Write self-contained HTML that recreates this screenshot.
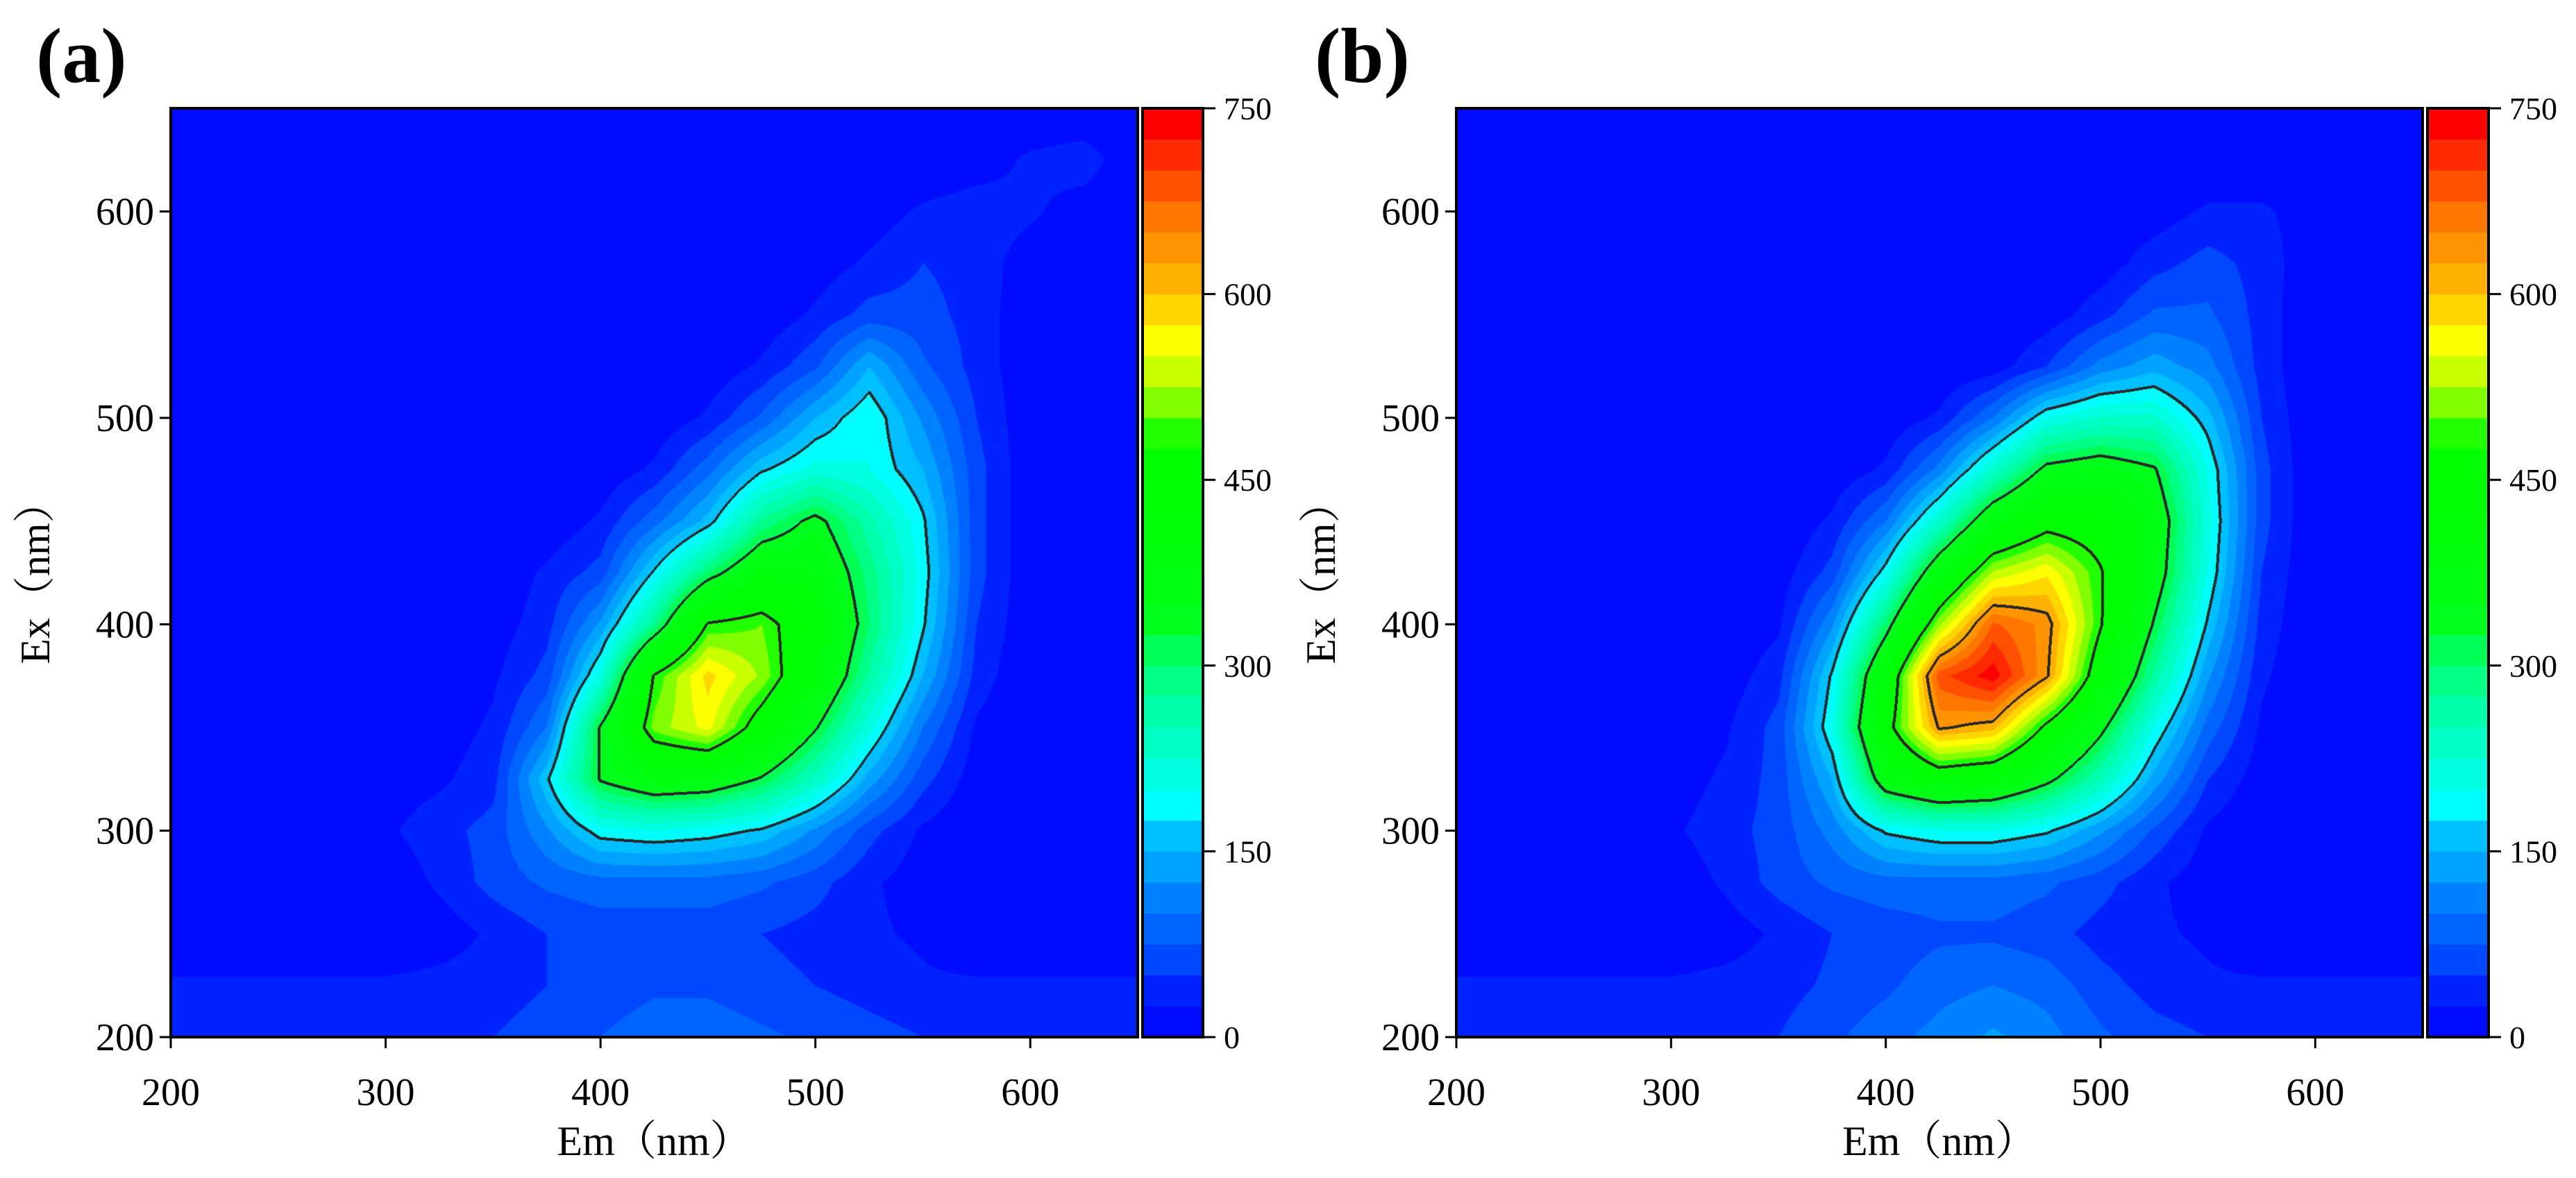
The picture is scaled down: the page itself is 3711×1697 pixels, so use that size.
<!DOCTYPE html>
<html><head><meta charset="utf-8">
<style>
html,body{margin:0;padding:0;background:#fff;}
#root{position:relative;width:3711px;height:1697px;overflow:hidden;background:#fff;font-family:"Liberation Serif","Noto Serif CJK SC",serif;}
canvas{position:absolute;}
svg{position:absolute;left:0;top:0;}
</style></head>
<body>
<div id="root">
<canvas id="cva" width="1393" height="1338" style="left:246px;top:156px"></canvas>
<canvas id="cvb" width="1392" height="1338" style="left:2098px;top:156px"></canvas>
<svg id="ov" width="3711" height="1697"></svg>
</div>
<script>
// ---- data ----
const emValues = [200,225,250,275,300,325,350,375,400,425,450,475,500,525,550,575,600,625,650];
const exValues = [200,225,250,275,300,325,350,375,400,425,450,475,500,525,550,575,600,625,650];
const xTickLabels = [200,300,400,500,600];
const yTickLabels = [200,300,400,500,600];
const cbTickLabels = [0,150,300,450,600,750];
const contourLevels = [175,325,475,625];
// rows: Ex 200 (first) -> 650 (last); cols: Em 200 -> 650
const intensityA = [
[40,40,40,40,40,45,50,60,75,90,90,80,70,60,50,40,40,40,40],
[30,30,30,30,30,35,40,50,60,70,70,60,50,40,30,30,30,30,30],
[0,0,0,0,0,10,30,50,60,60,60,50,40,30,20,0,0,0,0],
[0,0,0,0,5,30,60,80,90,90,90,80,60,30,10,0,0,0,0],
[0,0,0,0,20,40,60,120,190,200,190,170,120,60,20,0,0,0,0],
[0,0,0,0,10,20,40,170,330,380,370,320,240,140,60,10,0,0,0],
[0,0,0,0,0,10,30,100,330,510,560,440,330,210,100,20,0,0,0],
[0,0,0,0,0,5,20,60,210,480,585,520,400,270,150,40,0,0,0],
[0,0,0,0,0,0,10,40,130,280,480,500,420,300,180,50,5,0,0],
[0,0,0,0,0,0,5,30,60,180,300,390,380,290,190,60,5,0,0],
[0,0,0,0,0,0,0,5,30,90,160,280,340,260,180,60,5,0,0],
[0,0,0,0,0,0,0,0,5,30,90,170,210,200,150,60,5,0,0],
[0,0,0,0,0,0,0,0,0,5,30,80,150,200,120,50,5,0,0],
[0,0,0,0,0,0,0,0,0,0,5,30,70,150,80,40,5,0,0],
[0,0,0,0,0,0,0,0,0,0,0,5,30,60,60,40,5,0,0],
[0,0,0,0,0,0,0,0,0,0,0,0,10,30,50,40,10,0,0],
[0,0,0,0,0,0,0,0,0,0,0,0,0,10,30,40,30,10,0],
[0,0,0,0,0,0,0,0,0,0,0,0,0,0,0,10,30,40,0],
[0,0,0,0,0,0,0,0,0,0,0,0,0,0,0,0,0,0,0]
];
const intensityB = [
[40,40,40,40,40,45,50,70,90,110,130,110,80,60,50,40,40,40,40],
[30,30,30,30,30,35,40,55,70,90,100,90,60,40,30,30,30,30,30],
[0,0,0,0,0,10,30,50,60,70,70,60,40,30,20,0,0,0,0],
[0,0,0,0,5,30,60,80,90,90,90,80,60,30,10,0,0,0,0],
[0,0,0,0,20,40,60,110,180,200,200,180,130,70,20,0,0,0,0],
[0,0,0,0,10,30,60,150,370,430,410,340,250,140,50,10,0,0,0],
[0,0,0,0,5,20,60,200,450,630,610,460,340,200,90,20,0,0,0],
[0,0,0,0,0,10,40,180,410,690,740,630,430,270,130,30,0,0,0],
[0,0,0,0,0,5,20,120,300,520,680,640,480,320,170,40,0,0,0],
[0,0,0,0,0,0,10,60,190,380,530,570,480,360,200,50,0,0,0],
[0,0,0,0,0,0,0,30,100,230,380,450,440,370,210,60,0,0,0],
[0,0,0,0,0,0,0,5,30,110,230,340,360,330,200,60,0,0,0],
[0,0,0,0,0,0,0,0,5,30,100,200,230,230,160,50,0,0,0],
[0,0,0,0,0,0,0,0,0,0,10,50,110,140,110,40,0,0,0],
[0,0,0,0,0,0,0,0,0,0,0,10,40,80,80,40,0,0,0],
[0,0,0,0,0,0,0,0,0,0,0,0,10,40,60,40,5,0,0],
[0,0,0,0,0,0,0,0,0,0,0,0,0,10,30,30,10,0,0],
[0,0,0,0,0,0,0,0,0,0,0,0,0,0,0,0,10,10,0],
[0,0,0,0,0,0,0,0,0,0,0,0,0,0,0,0,0,0,0]
];
// ---- colormap ----
const cmapStops = [[0,0,0,255],[35,0,30,255],[61,0,70,255],[87,0,100,255],[113,0,130,255],[136,0,160,255],[162,0,190,255],[188,0,255,255],[216,0,255,220],[263,0,255,170],[289,0,255,130],[315,0,255,80],[340,0,255,20],[470,0,255,0],[491,40,255,0],[512,128,255,0],[537,200,255,0],[563,255,255,0],[587,255,215,0],[610,255,180,0],[636,255,150,0],[662,255,120,0],[688,255,80,0],[714,255,40,0],[737,255,0,0],[750,255,0,0]];
function cmap(v){
  for(let i=1;i<cmapStops.length;i++){
    if(v<=cmapStops[i][0]){const a=cmapStops[i-1],b=cmapStops[i];const t=(v-a[0])/(b[0]-a[0]);
      return [a[1]+(b[1]-a[1])*t,a[2]+(b[2]-a[2])*t,a[3]+(b[3]-a[3])*t];}
  }
  return [255,0,0];
}
const STEP=25;
function bandColor(k){return cmap(Math.min(29,k)*STEP+STEP/2);}
const X0=200,X1=650,Y0=200,Y1=650;
function interp(grid,em,ex){
  const fx=(em-emValues[0])/(emValues[1]-emValues[0]);
  const fy=(ex-exValues[0])/(exValues[1]-exValues[0]);
  let i=Math.min(emValues.length-2,Math.max(0,Math.floor(fx)));
  let j=Math.min(exValues.length-2,Math.max(0,Math.floor(fy)));
  const tx=fx-i,ty=fy-j;
  const a=grid[j][i],b=grid[j][i+1],c=grid[j+1][i],d=grid[j+1][i+1];
  return a*(1-tx)*(1-ty)+b*tx*(1-ty)+c*(1-tx)*ty+d*tx*ty;
}
function drawHeat(id,grid){
  const cv=document.getElementById(id);const W=cv.width,H=cv.height;
  const ctx=cv.getContext('2d');const img=ctx.createImageData(W,H);
  const vals=new Float32Array(W*H);
  for(let y=0;y<H;y++){const ex=Y1-(y+0.5)/H*(Y1-Y0);
    for(let x=0;x<W;x++){const em=X0+(x+0.5)/W*(X1-X0);vals[y*W+x]=interp(grid,em,ex);}}
  for(let p=0;p<W*H;p++){const c=bandColor(Math.floor(vals[p]/STEP));
    img.data[p*4]=c[0];img.data[p*4+1]=c[1];img.data[p*4+2]=c[2];img.data[p*4+3]=255;}
  for(const L of contourLevels){
    for(let y=1;y<H-2;y++)for(let x=1;x<W-2;x++){
      const p=y*W+x;const s=vals[p]>=L;
      if(s!==(vals[p+1]>=L)||s!==(vals[p+W]>=L)){
        for(const q of [p-1,p,p+1,p+2,p-W,p+W,p+2*W]){img.data[q*4]=40;img.data[q*4+1]=40;img.data[q*4+2]=40;}
      }
    }
  }
  ctx.putImageData(img,0,0);
}
drawHeat('cva',intensityA);
drawHeat('cvb',intensityB);

// ---- axes overlay ----
const NS='http://www.w3.org/2000/svg';
const ov=document.getElementById('ov');
function el(tag,attrs,parent){const e=document.createElementNS(NS,tag);for(const k in attrs)e.setAttribute(k,attrs[k]);(parent||ov).appendChild(e);return e;}
const panels=[{id:'a',left:246,right:1639,cbL:1646,cbR:1733,lab:'(a)',labX:52},{id:'b',left:2098,right:3490,cbL:3497,cbR:3585,lab:'(b)',labX:1894}];
const TOP=156,BOT=1494;
for(const P of panels){
  const g=el('g',{});
  
  
  const xs=v=>P.left+(v-X0)/(X1-X0)*(P.right-P.left);
  const ys=v=>BOT-(v-Y0)/(Y1-Y0)*(BOT-TOP);
  const frame=el('rect',{x:P.left,y:TOP,width:P.right-P.left,height:BOT-TOP,fill:'none',stroke:'#000','stroke-width':4},g);
  
  
  for(const t of xTickLabels){
    el('line',{x1:xs(t),x2:xs(t),y1:BOT,y2:BOT+16,stroke:'#000','stroke-width':3},g);
    const tx=el('text',{x:xs(t),y:1592,'font-size':56,'text-anchor':'middle',fill:'#000'},g);tx.textContent=t;
    
    
  }
  for(const t of yTickLabels){
    el('line',{x1:P.left-16,x2:P.left,y1:ys(t),y2:ys(t),stroke:'#000','stroke-width':3},g);
    const tx=el('text',{x:P.left-24,y:ys(t)+19,'font-size':56,'text-anchor':'end',fill:'#000'},g);tx.textContent=t;
    
    
  }
  const xt=el('text',{x:(P.left+P.right)/2,y:1664,'font-size':60,'text-anchor':'middle',fill:'#000'},g);xt.textContent='Em（nm）';
  
  
  const cy=(TOP+BOT)/2, cx=P.left-175;
  const yt=el('text',{x:cx,y:cy,'font-size':60,'text-anchor':'middle',fill:'#000',transform:'rotate(-90 '+cx+' '+cy+')'},g);yt.textContent='Ex（nm）';
  
  
  const pl=el('text',{x:P.labX,y:118,'font-size':112,'font-weight':'bold',fill:'#000'},g);pl.textContent=P.lab;
  
  
  // colorbar
  const cb=el('g',{},g);
  
  
  const cs=v=>BOT-v/750*(BOT-TOP);
  for(let k=0;k<30;k++){
    const c=bandColor(k);
    const r=el('rect',{x:P.cbL,y:cs((k+1)*STEP),width:P.cbR-P.cbL,height:cs(k*STEP)-cs((k+1)*STEP)+0.5,fill:'rgb('+c.map(Math.round).join(',')+')'},cb);
    
    
  }
  el('rect',{x:P.cbL,y:TOP,width:P.cbR-P.cbL,height:BOT-TOP,fill:'none',stroke:'#000','stroke-width':4},cb);
  for(const t of cbTickLabels){
    el('line',{x1:P.cbR,x2:P.cbR+18,y1:cs(t),y2:cs(t),stroke:'#000','stroke-width':3},cb);
    const tx=el('text',{x:P.cbR+30,y:cs(t)+16,'font-size':46,fill:'#000'},cb);tx.textContent=t;
    
    
  }
}
</script>
</body></html>
